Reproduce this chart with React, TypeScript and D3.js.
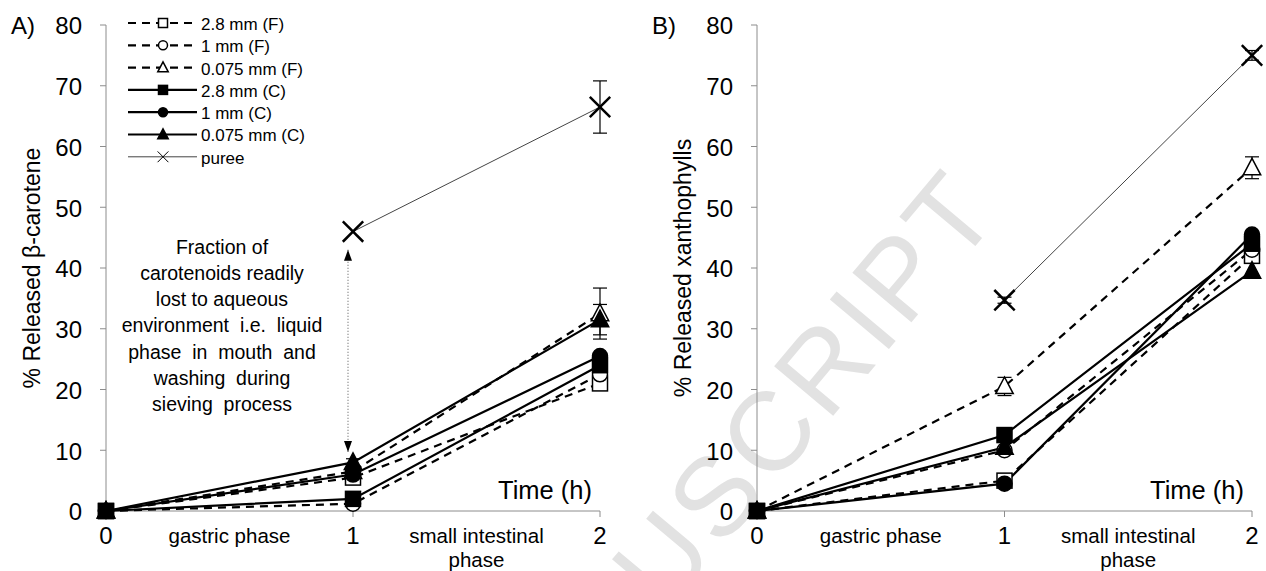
import React from "react";
import * as d3 from "d3";

// time points (h) and labels
const times = [0, 1, 2];
const xTickLabels = ["0", "1", "2"];
const yTicks = [0, 10, 20, 30, 40, 50, 60, 70, 80];
const phaseLabels = ["gastric phase", "small intestinal"];
const seriesNames = [
  "2.8 mm (F)",
  "1 mm (F)",
  "0.075 mm (F)",
  "2.8 mm (C)",
  "1 mm (C)",
  "0.075 mm (C)",
  "puree",
];

// A) released beta-carotene (%)
const caroteneF28 = [0, 5.5, 21];
const caroteneF1 = [0, 1.2, 22.5];
const caroteneF0075 = [0, 6.5, 32.5];
const caroteneC28 = [0, 2, 24];
const caroteneC1 = [0, 6, 25.5];
const caroteneC0075 = [0, 8, 31.5];
const carotenePuree = [null, 46, 66.5];
const caroteneErrF0075 = [0, 0.6, 4.2];
const caroteneErrC0075 = [0, 0.6, 2.5];
const caroteneErrPuree = [0, 0, 4.3];

// B) released xanthophylls (%)
const xanthF28 = [0, 5, 42];
const xanthF1 = [0, 10, 43];
const xanthF0075 = [0, 20.5, 56.5];
const xanthC28 = [0, 12.5, 44];
const xanthC1 = [0, 4.5, 45.5];
const xanthC0075 = [0, 10.5, 39.5];
const xanthPuree = [null, 34.7, 75];
const xanthErrF0075 = [0, 1.5, 1.8];
const xanthErrPuree = [0, 0.5, 0.8];

const annotationLines = [
  "Fraction of",
  "carotenoids readily",
  "lost to aqueous",
  "environment  i.e.  liquid",
  "phase  in  mouth  and",
  "washing  during",
  "sieving  process",
];

const styles = [
  { dashed: true, shape: "square", filled: false },
  { dashed: true, shape: "circle", filled: false },
  { dashed: true, shape: "triangle", filled: false },
  { dashed: false, shape: "square", filled: true },
  { dashed: false, shape: "circle", filled: true },
  { dashed: false, shape: "triangle", filled: true },
  { dashed: false, shape: "x", filled: false, thin: true },
];

const FONT = "'Liberation Sans', Arial, sans-serif";
const zeros = [0, 0, 0];

function Marker({ shape, filled, cx, cy, s }: any) {
  const fill = filled ? "#000" : "#fff";
  if (shape === "square")
    return (
      <rect
        x={cx - s / 2}
        y={cy - s / 2}
        width={s}
        height={s}
        fill={fill}
        stroke="#000"
        strokeWidth={1.5}
      />
    );
  if (shape === "circle")
    return <circle cx={cx} cy={cy} r={s / 2} fill={fill} stroke="#000" strokeWidth={1.5} />;
  if (shape === "triangle") {
    const h = s * 1.05;
    const pts = [
      [cx, cy - h * 0.6],
      [cx - s * 0.58, cy + h * 0.45],
      [cx + s * 0.58, cy + h * 0.45],
    ];
    return <polygon points={pts.map((p) => p.join(",")).join(" ")} fill={fill} stroke="#000" strokeWidth={1.5} />;
  }
  const r = s * 0.6;
  return (
    <g stroke="#000" strokeWidth={s > 10 ? 2.5 : 1}>
      <line x1={cx - r} y1={cy - r} x2={cx + r} y2={cy + r} />
      <line x1={cx - r} y1={cy + r} x2={cx + r} y2={cy - r} />
    </g>
  );
}

function Panel({ label, labelX, title, x0, x1, series, errors, legend, annotation }: any) {
  const x = d3.scaleLinear().domain([0, 2]).range([x0, x1]);
  const y = d3.scaleLinear().domain([0, 80]).range([511, 25]);
  const line = d3
    .line<any>()
    .defined((d) => d != null)
    .x((d, i) => x(times[i]))
    .y((d) => y(d));

  return (
    <g fontFamily={FONT}>
      <text x={labelX} y={y(80) + 1} dy="0.35em" fontSize={24}>
        {label}
      </text>
      {/* axes */}
      <line x1={x0} x2={x0} y1={y(80)} y2={y(0)} stroke="#8c8c8c" />
      <line x1={x0} x2={x1} y1={y(0)} y2={y(0)} stroke="#8c8c8c" />
      {yTicks.map((t) => (
        <g key={t}>
          <line x1={x0 - 6} x2={x0} y1={y(t)} y2={y(t)} stroke="#8c8c8c" />
          <text x={x0 - 24} y={y(t) + 1} dy="0.35em" textAnchor="end" fontSize={24}>
            {t}
          </text>
        </g>
      ))}
      {times.map((t, i) => (
        <g key={t}>
          <line x1={x(t)} x2={x(t)} y1={y(0)} y2={y(0) + 6} stroke="#8c8c8c" />
          <text x={x(t)} y={536} dy="0.35em" textAnchor="middle" fontSize={24}>
            {xTickLabels[i]}
          </text>
        </g>
      ))}
      <text x={(x(0) + x(1)) / 2} y={536} dy="0.35em" textAnchor="middle" fontSize={20.5}>
        {phaseLabels[0]}
      </text>
      <text x={(x(1) + x(2)) / 2} y={536} dy="0.35em" textAnchor="middle" fontSize={20.5}>
        {phaseLabels[1]}
      </text>
      <text x={(x(1) + x(2)) / 2} y={560} dy="0.35em" textAnchor="middle" fontSize={20.5}>
        phase
      </text>
      <text x={x1 - 8} y={490} dy="0.35em" textAnchor="end" fontSize={25.5}>
        Time (h)
      </text>
      <text
        transform={`translate(${x0 - 74},${(y(0) + y(80)) / 2}) rotate(-90)`}
        dy="0.35em"
        textAnchor="middle"
        fontSize={23}
      >
        {title}
      </text>

      {annotation && (
        <g>
          <line
            x1={x(1) - 5}
            x2={x(1) - 5}
            y1={y(43)}
            y2={y(9.7)}
            stroke="#555"
            strokeDasharray="1,2"
          />
          <polygon
            points={`${x(1) - 5},${y(43)} ${x(1) - 9},${y(43) + 11} ${x(1) - 1},${y(43) + 11}`}
            fill="#000"
          />
          <polygon
            points={`${x(1) - 5},${y(9.7)} ${x(1) - 9},${y(9.7) - 11} ${x(1) - 1},${y(9.7) - 11}`}
            fill="#000"
          />
          {annotationLines.map((t, i) => (
            <text
              key={i}
              x={222}
              y={247 + i * 26.2}
              dy="0.35em"
              textAnchor="middle"
              fontSize={19.5}
              style={{ whiteSpace: "pre" }}
            >
              {t}
            </text>
          ))}
        </g>
      )}

      {/* lines */}
      {series.map((vals: any, si: number) => (
        <path
          key={si}
          d={line(vals) || ""}
          fill="none"
          stroke={styles[si].thin ? "#444" : "#000"}
          strokeWidth={styles[si].thin ? 1 : 2.2}
          strokeDasharray={styles[si].dashed ? "8,6" : undefined}
        />
      ))}
      {/* error bars */}
      {series.map((vals: any, si: number) =>
        vals.map((v: any, i: number) => {
          const e = errors[si][i];
          if (v == null || !e) return null;
          const cx = x(times[i]);
          return (
            <g key={`${si}-${i}`} stroke="#000" strokeWidth={1.2}>
              <line x1={cx} x2={cx} y1={y(v - e)} y2={y(v + e)} />
              <line x1={cx - 7} x2={cx + 7} y1={y(v - e)} y2={y(v - e)} />
              <line x1={cx - 7} x2={cx + 7} y1={y(v + e)} y2={y(v + e)} />
            </g>
          );
        })
      )}
      {/* markers */}
      {series.map((vals: any, si: number) =>
        vals.map((v: any, i: number) =>
          v == null ? null : (
            <Marker
              key={`${si}-${i}`}
              shape={styles[si].shape}
              filled={styles[si].filled}
              cx={x(times[i])}
              cy={y(v)}
              s={styles[si].shape === "x" ? 17 : 15}
            />
          )
        )
      )}

      {legend && (
        <g>
          {seriesNames.map((n, i) => {
            const ly = 23 + i * 22.3;
            return (
              <g key={n}>
                <line
                  x1={128}
                  x2={197}
                  y1={ly}
                  y2={ly}
                  stroke={styles[i].thin ? "#444" : "#000"}
                  strokeWidth={styles[i].thin ? 1 : 2.2}
                  strokeDasharray={styles[i].dashed ? "8,6" : undefined}
                />
                <Marker shape={styles[i].shape} filled={styles[i].filled} cx={163} cy={ly} s={9} />
                <text x={201} y={ly + 1} dy="0.35em" fontSize={17}>
                  {n}
                </text>
              </g>
            );
          })}
        </g>
      )}
    </g>
  );
}

export default function App() {
  const caroteneSeries = [
    caroteneF28,
    caroteneF1,
    caroteneF0075,
    caroteneC28,
    caroteneC1,
    caroteneC0075,
    carotenePuree,
  ];
  const caroteneErrors = [zeros, zeros, caroteneErrF0075, zeros, zeros, caroteneErrC0075, caroteneErrPuree];
  const xanthSeries = [xanthF28, xanthF1, xanthF0075, xanthC28, xanthC1, xanthC0075, xanthPuree];
  const xanthErrors = [zeros, zeros, xanthErrF0075, zeros, zeros, zeros, xanthErrPuree];

  return (
    <svg
      width={1266}
      height={571}
      style={{ position: "absolute", left: 0, top: 0, background: "#fff" }}
    >
      <rect width={1266} height={571} fill="#fff" />
      <text
        transform="translate(1004,212) rotate(-50)"
        textAnchor="end"
        fontFamily={FONT}
        fontSize={112}
        letterSpacing={5}
        fill="#e2e2e2"
      >
        MANUSCRIPT
      </text>
      <Panel
        label="A)"
        labelX={11}
        title="% Released β-carotene"
        x0={106}
        x1={600}
        series={caroteneSeries}
        errors={caroteneErrors}
        legend
        annotation
      />
      <Panel
        label="B)"
        labelX={652}
        title="% Released xanthophylls"
        x0={757}
        x1={1252}
        series={xanthSeries}
        errors={xanthErrors}
      />
    </svg>
  );
}
